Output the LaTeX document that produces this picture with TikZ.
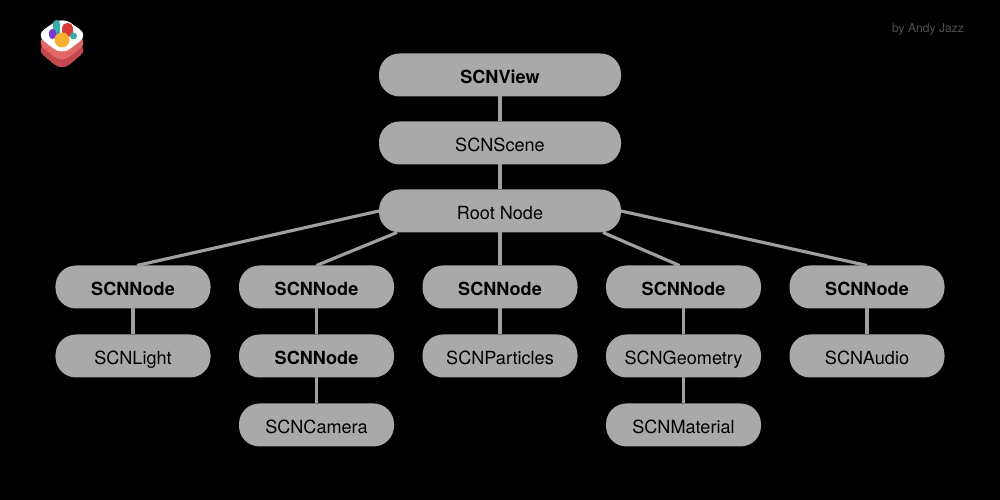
\documentclass[tikz,border=0pt]{standalone}
\usepackage{fontspec}
\setmainfont{TeX Gyre Heros}
\usetikzlibrary{arrows.meta,positioning,calc,backgrounds}
\definecolor{pillgray}{RGB}{169,169,169}
\definecolor{linkgray}{RGB}{160,160,160}
\definecolor{creditgray}{RGB}{82,82,82}
\definecolor{logored}{RGB}{196,72,78}
\definecolor{logopink}{RGB}{226,104,104}
\definecolor{logoteal}{RGB}{58,170,170}
\definecolor{logopurple}{RGB}{122,58,205}
\definecolor{logoscarlet}{RGB}{214,58,58}
\definecolor{logoamber}{RGB}{247,176,50}
\tikzset{
  pill/.style={rounded corners=0.41cm, fill=pillgray, text=black, outer sep=0pt, inner sep=0pt,
               text height=9.5pt, text depth=0pt,
               minimum width=3.1cm, minimum height=0.86cm, font=\fontsize{10.3pt}{12pt}\selectfont},
  widepill/.style={pill, minimum width=4.84cm},
  bpill/.style={pill, font=\fontsize{10.3pt}{12pt}\selectfont\bfseries},
  link/.style={line width=1.8pt, draw=linkgray},
}

\begin{document}
\begin{tikzpicture}[node distance=0.52cm and 0.57cm]
    \useasboundingbox (0,0) rectangle (20,10);
    \node[widepill, font=\fontsize{10.3pt}{12pt}\selectfont\bfseries] (view) at (10,8.5) {SCNView};
    \node[widepill, below=0.5cm of view] (scene) {SCNScene};
    \node[widepill, below=0.5cm of scene] (root) {Root Node};
    % row of scene graph nodes
    \node[bpill, below=0.66cm of root] (nodec) {SCNNode};
    \node[bpill, left=of nodec] (nodeb) {SCNNode};
    \node[bpill, left=of nodeb] (nodea) {SCNNode};
    \node[bpill, right=of nodec] (noded) {SCNNode};
    \node[bpill, right=of noded] (nodee) {SCNNode};
    % attachments
    \node[pill, below=of nodea] (light) {SCNLight};
    \node[bpill, below=of nodeb] (nodeb2) {SCNNode};
    \node[pill, below=of nodeb2] (camera) {SCNCamera};
    \node[pill, below=of nodec] (particles) {SCNParticles};
    \node[pill, below=of noded] (geometry) {SCNGeometry};
    \node[pill, below=of geometry] (material) {SCNMaterial};
    \node[pill, below=of nodee] (audio) {SCNAudio};
    \node[text=creditgray, font=\fontsize{6.9pt}{8pt}\selectfont] (credit) at (18.56,9.42) {by Andy Jazz};
    \draw[link] (view)--(scene);\draw[link] (scene)--(root);\draw[link] (root)--(nodec);
    \draw[link] (root.west)--([xshift=0.08cm]nodea.north);
    \draw[link] ([xshift=0.36cm]root.south west)--(nodeb.north);
    \draw[link] ([xshift=-0.36cm]root.south east)--([xshift=-0.08cm]noded.north);
    \draw[link] (root.east)--(nodee.north);
    \draw[link] (nodea)--(light);\draw[link] (nodeb)--(nodeb2);\draw[link] (nodeb2)--(camera);
    \draw[link] (nodec)--(particles);\draw[link] (noded)--(geometry);\draw[link] (geometry)--(material);
    \draw[link] (nodee)--(audio);
    \begin{scope}[on background layer]
      \fill[black] (0,0) rectangle (20,10);
    \end{scope}
    % logo
    \begin{scope}[shift={(0,10)},x=0.02cm,y=-0.02cm,rounded corners=0.2cm]
      \fill[logored] (36,49) -- (62,32) -- (88,49) -- (62,71) -- cycle;
      \fill[logopink] (36,42) -- (62,25) -- (88,42) -- (62,63) -- cycle;
      \fill[white] (36,35) -- (62,17) -- (88,35) -- (62,55) -- cycle;
    \end{scope}
    \begin{scope}[shift={(0,10)},x=0.02cm,y=-0.02cm]
      \fill[logoteal, rounded corners=0.07cm] (53,20) rectangle (60,36);
      \fill[logoscarlet, rounded corners=0.1cm] (62,23) rectangle (73,37);
      \fill[logopurple, rounded corners=0.07cm] (49,29) rectangle (56,39);
      \fill[logoteal] (73.5,36) circle (3.5);
      \fill[logoamber] (62,40) circle (7.5);
    \end{scope}
  \end{tikzpicture}
\end{document}
